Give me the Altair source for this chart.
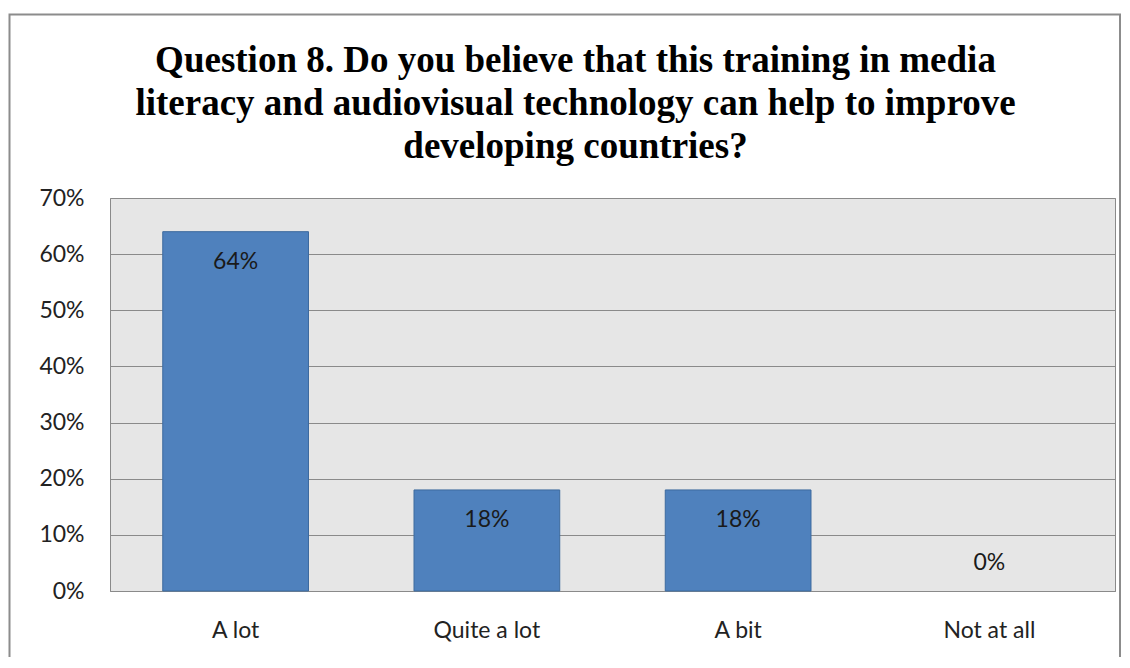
import altair as alt
import pandas as pd

categories = ["A lot", "Quite a lot", "A bit", "Not at all"]
values = [0.64, 0.18, 0.18, 0.0]
y_ticks = [0, 0.1, 0.2, 0.3, 0.4, 0.5, 0.6, 0.7]
title_lines = [
    "Question 8. Do you believe that this training in media",
    "literacy and audiovisual technology can help to improve",
    "developing countries?",
]

df = pd.DataFrame({"cat": categories, "val": values})

x_scale = alt.Scale(domain=categories, paddingInner=0.42, paddingOuter=0.21)

x_enc = alt.X(
    "cat:N",
    sort=categories,
    title=None,
    scale=x_scale,
    axis=alt.Axis(
        labelAngle=0,
        ticks=False,
        labelPadding=28,
        labelFontSize=23,
        labelFont="Lato",
        labelColor="#222222",
        domainColor="#8a8a8a",
        domainWidth=1,
        grid=False,
    ),
)
y_enc = alt.Y(
    "val:Q",
    title=None,
    scale=alt.Scale(domain=[0, 0.7], nice=False),
    axis=alt.Axis(
        values=y_ticks,
        format=".0%",
        ticks=False,
        domain=False,
        labelPadding=26,
        labelFontSize=23,
        labelFont="Lato",
        labelColor="#222222",
        grid=True,
        gridColor="#8a8a8a",
        gridWidth=1,
    ),
)

base = alt.Chart(df)

bars = base.transform_filter("datum.val > 0").mark_bar(
    color="#4F81BD", stroke="#3C6A9E", strokeWidth=1
).encode(x=x_enc, y=y_enc)

labels_pos = base.transform_filter("datum.val > 0").mark_text(
    dy=30, fontSize=23, font="Lato", color="#1a1a1a"
).encode(
    x=alt.X("cat:N", sort=categories, scale=x_scale),
    y="val:Q",
    text=alt.Text("val:Q", format=".0%"),
)

labels_zero = base.transform_filter("datum.val <= 0").mark_text(
    dy=-28, fontSize=23, font="Lato", color="#1a1a1a"
).encode(
    x=alt.X("cat:N", sort=categories, scale=x_scale),
    y="val:Q",
    text=alt.Text("val:Q", format=".0%"),
)

one = pd.DataFrame({"a": [0]})

frame = alt.Chart(one).mark_rect(
    fill=None, stroke="#8c8c8c", strokeWidth=2
).encode(
    x=alt.value(-100.5), x2=alt.value(1010), y=alt.value(-183.5), y2=alt.value(520)
)

title = alt.Chart(one).mark_text(
    font="Liberation Serif",
    fontSize=37,
    fontWeight="bold",
    lineHeight=43,
    color="#000000",
    align="center",
    baseline="alphabetic",
).encode(
    x=alt.value(465.5), y=alt.value(-126), text=alt.value(title_lines)
)

chart = (
    alt.layer(frame, title, bars, labels_pos, labels_zero)
    .properties(
        width=1005,
        height=393,
        autosize=alt.AutoSizeParams(type="none"),
        padding={"left": 102, "top": 190, "right": 6, "bottom": 66},
    )
    .configure_view(fill="#E6E6E6", stroke="#8a8a8a", strokeWidth=1)
)

chart.save("out.html", embed_options={"renderer": "svg", "actions": False})
